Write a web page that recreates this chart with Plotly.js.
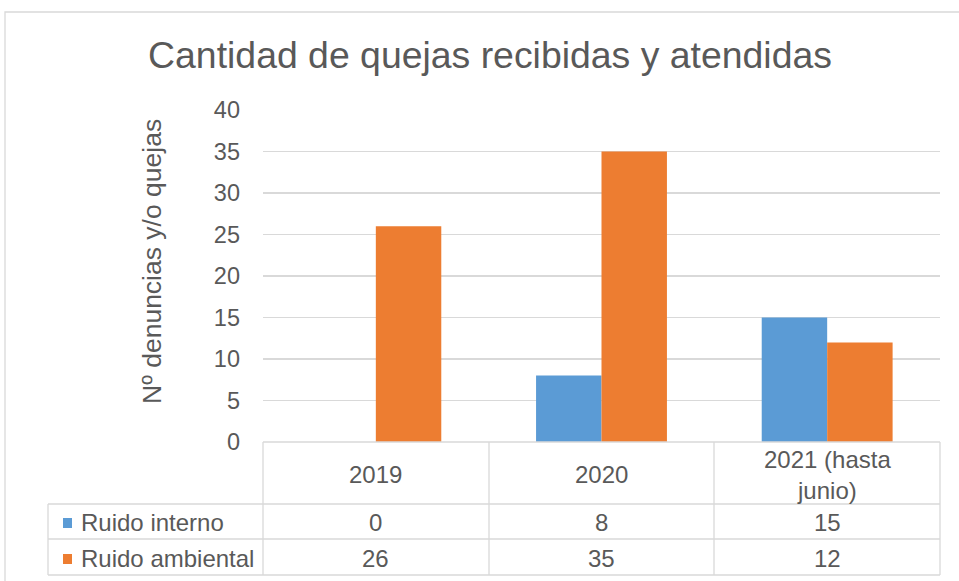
<!DOCTYPE html>
<html><head><meta charset="utf-8">
<script src="https://cdn.plot.ly/plotly-3.0.1.min.js"></script>
<style>html,body{margin:0;padding:0;background:#fff}#c{width:959px;height:581px}</style>
</head><body><div id="c"></div>
<script>
const categories = ["2019", "2020", "2021 (hasta junio)"];
const categoryLabels = ["2019", "2020", "2021 (hasta<br>junio)"];
const seriesNames = ["Ruido interno", "Ruido ambiental"];
const ruidoInterno = [0, 8, 15];
const ruidoAmbiental = [26, 35, 12];
const yTicks = [0, 5, 10, 15, 20, 25, 30, 35, 40];

const colors = ["#5B9BD5", "#ED7D31"];
const txt = "#595959";
const grid = "#D9D9D9";
const W = 959, H = 581;
const L = 263, R = 940, T = 110, B = 442;
const px = X => (X - L) / (R - L);
const py = Y => (B - Y) / (B - T);

const traces = [
  {type: "bar", name: seriesNames[0], x: categories, y: ruidoInterno, marker: {color: colors[0]}, hoverinfo: "none"},
  {type: "bar", name: seriesNames[1], x: categories, y: ruidoAmbiental, marker: {color: colors[1]}, hoverinfo: "none"}
];

const line = {color: grid, width: 1.3};
const shapes = [];
shapes.push({type: "rect", xref: "paper", yref: "paper", x0: px(5), x1: px(1000), y0: py(12), y1: py(640), line: {color: "#D9D9D9", width: 1.3}});
[[L, 442], [48, 504], [48, 539], [48, 575]].forEach(([x0, y]) => {
  shapes.push({type: "line", xref: "paper", yref: "paper", x0: px(x0), x1: px(R), y0: py(y), y1: py(y), line});
});
shapes.push({type: "line", xref: "paper", yref: "paper", x0: px(48), x1: px(48), y0: py(504), y1: py(575), line});
[L, 489, 714, R].forEach(x => {
  shapes.push({type: "line", xref: "paper", yref: "paper", x0: px(x), x1: px(x), y0: py(442), y1: py(575), line});
});
[[523, 0], [559, 1]].forEach(([yc, i]) => {
  shapes.push({type: "rect", xref: "paper", yref: "paper", x0: px(63), x1: px(72), y0: py(yc - 5), y1: py(yc + 5), fillcolor: colors[i], line: {width: 0}});
});

const fam = "Liberation Sans, Arial, sans-serif";
const font = {family: fam, size: 24, color: txt};
const annotations = [];
categories.forEach((c, i) => {
  annotations.push({xref: "x", yref: "paper", x: i, y: py(475), text: categoryLabels[i], showarrow: false, font, yanchor: "middle"});
  annotations.push({xref: "x", yref: "paper", x: i, y: py(522), text: String(ruidoInterno[i]), showarrow: false, font, yanchor: "middle"});
  annotations.push({xref: "x", yref: "paper", x: i, y: py(558), text: String(ruidoAmbiental[i]), showarrow: false, font, yanchor: "middle"});
});
annotations.push({xref: "paper", yref: "paper", x: px(79), y: py(522), xanchor: "left", yanchor: "middle", text: seriesNames[0], showarrow: false, font});
annotations.push({xref: "paper", yref: "paper", x: px(79), y: py(558), xanchor: "left", yanchor: "middle", text: seriesNames[1], showarrow: false, font});
annotations.push({xref: "paper", yref: "paper", x: px(152), y: py(262), xanchor: "center", yanchor: "middle", textangle: -90, text: "Nº denuncias y/o quejas", showarrow: false, font: {family: fam, size: 26.5, color: txt}});

const layout = {
  width: W, height: H,
  margin: {l: L, r: W - R, t: T, b: H - B, pad: 0},
  paper_bgcolor: "#fff", plot_bgcolor: "#fff",
  showlegend: false,
  barmode: "group", bargap: 0.42, bargroupgap: 0,
  title: {text: "Cantidad de quejas recibidas y atendidas", font: {family: fam, size: 37.4, color: txt}, x: 490 / W, xanchor: "center", y: 1 - 55 / H, yanchor: "middle", xref: "container", yref: "container"},
  xaxis: {type: "category", range: [-0.5, 2.5], autorange: false, showticklabels: false, showgrid: false, zeroline: false, showline: false, ticks: ""},
  yaxis: {range: [0, 40], autorange: false, tickvals: yTicks, ticktext: yTicks.map(String), showgrid: true, gridcolor: grid, gridwidth: 1.3, zeroline: false, showline: false, ticks: "", tickfont: {family: fam, size: 23.5, color: txt}, ticklabelstandoff: 22},
  shapes, annotations
};
Plotly.newPlot("c", traces, layout, {staticPlot: true, displayModeBar: false});
</script></body></html>
